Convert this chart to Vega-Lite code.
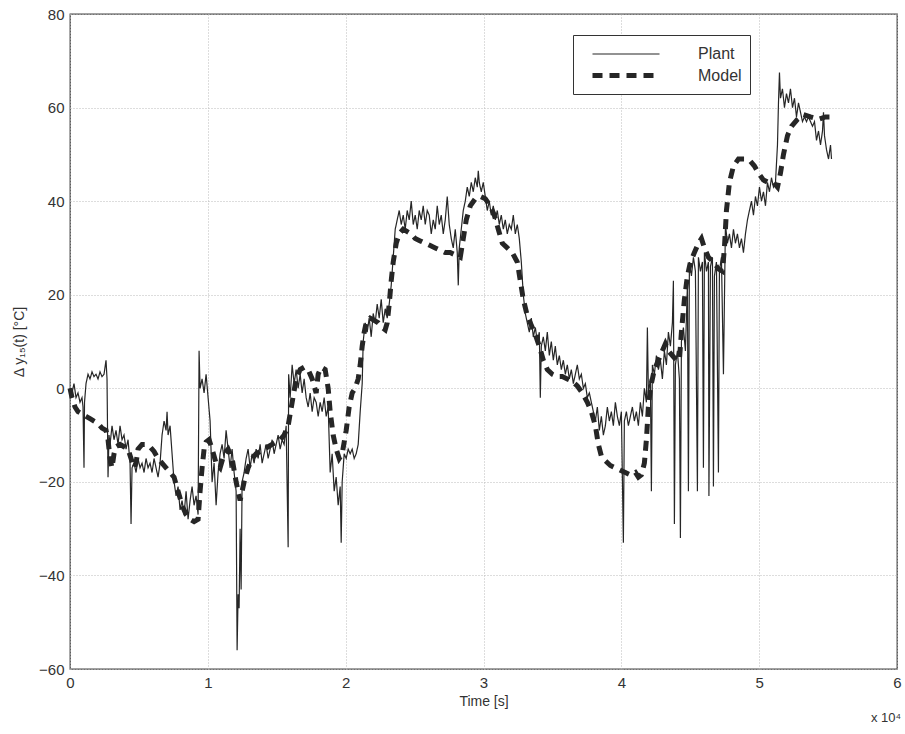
{
"$schema": "https://vega.github.io/schema/vega-lite/v6.json",
"width": 827, "height": 655,
"autosize": {"type": "none"},
"padding": {"left": 70, "top": 14, "right": 8, "bottom": 65},
"background": "white",
"title": {"text": "x 10⁴", "orient": "bottom", "anchor": "end", "fontSize": 13, "fontWeight": "normal", "font": "Liberation Sans", "color": "#333", "offset": 4},
"config": {
  "view": {"stroke": "#444", "strokeWidth": 1.3},
  "font": "Liberation Sans",
  "axis": {"domain": false, "ticks": false, "grid": true, "gridColor": "#bbb", "gridDash": [1, 2], "gridWidth": 1, "labelFont": "Liberation Sans", "labelFontSize": 15, "labelColor": "#333", "titleFont": "Liberation Sans", "titleFontSize": 14, "titleFontWeight": "normal", "titleColor": "#333"},
  "legend": {"orient": "none", "legendX": 503, "legendY": 21, "strokeColor": "#333", "fillColor": "white", "padding": 8, "symbolType": "M-0.1,0H6.6", "symbolSize": 400, "labelFontSize": 16, "labelFont": "Liberation Sans", "labelColor": "#333", "labelOffset": 92, "rowPadding": 1, "title": null}
},
"data": {"values": [
{"series":"Plant","time":0,"value":0},{"series":"Plant","time":145,"value":-1},{"series":"Plant","time":290,"value":1},{"series":"Plant","time":436,"value":-2},{"series":"Plant","time":581,"value":-1},{"series":"Plant","time":726,"value":-3},{"series":"Plant","time":871,"value":-2},{"series":"Plant","time":944,"value":-4},{"series":"Plant","time":1016,"value":-17},{"series":"Plant","time":1053,"value":-3},{"series":"Plant","time":1162,"value":1},{"series":"Plant","time":1307,"value":3},{"series":"Plant","time":1452,"value":2},{"series":"Plant","time":1597,"value":3.5},{"series":"Plant","time":1742,"value":2.5},{"series":"Plant","time":1888,"value":3},{"series":"Plant","time":2033,"value":2},{"series":"Plant","time":2178,"value":3.5},{"series":"Plant","time":2323,"value":2.5},{"series":"Plant","time":2468,"value":3},{"series":"Plant","time":2614,"value":6},{"series":"Plant","time":2686,"value":2},{"series":"Plant","time":2759,"value":-19},{"series":"Plant","time":2831,"value":-10},{"series":"Plant","time":2904,"value":-12},{"series":"Plant","time":3049,"value":-8},{"series":"Plant","time":3194,"value":-11},{"series":"Plant","time":3340,"value":-9},{"series":"Plant","time":3485,"value":-12},{"series":"Plant","time":3630,"value":-8},{"series":"Plant","time":3775,"value":-11},{"series":"Plant","time":3920,"value":-10},{"series":"Plant","time":4066,"value":-13},{"series":"Plant","time":4211,"value":-11},{"series":"Plant","time":4356,"value":-16},{"series":"Plant","time":4429,"value":-29},{"series":"Plant","time":4501,"value":-17},{"series":"Plant","time":4646,"value":-16},{"series":"Plant","time":4792,"value":-18},{"series":"Plant","time":4937,"value":-15},{"series":"Plant","time":5082,"value":-17},{"series":"Plant","time":5227,"value":-16},{"series":"Plant","time":5372,"value":-18},{"series":"Plant","time":5518,"value":-15},{"series":"Plant","time":5663,"value":-17},{"series":"Plant","time":5808,"value":-16},{"series":"Plant","time":5953,"value":-18},{"series":"Plant","time":6098,"value":-15},{"series":"Plant","time":6244,"value":-17},{"series":"Plant","time":6389,"value":-19},{"series":"Plant","time":6534,"value":-16},{"series":"Plant","time":6679,"value":-10},{"series":"Plant","time":6824,"value":-7},{"series":"Plant","time":6970,"value":-9},{"series":"Plant","time":7042,"value":-5},{"series":"Plant","time":7115,"value":-10},{"series":"Plant","time":7260,"value":-8},{"series":"Plant","time":7405,"value":-14},{"series":"Plant","time":7550,"value":-20},{"series":"Plant","time":7696,"value":-23},{"series":"Plant","time":7841,"value":-21},{"series":"Plant","time":7986,"value":-26},{"series":"Plant","time":8131,"value":-24},{"series":"Plant","time":8276,"value":-27},{"series":"Plant","time":8422,"value":-22},{"series":"Plant","time":8567,"value":-28},{"series":"Plant","time":8712,"value":-24},{"series":"Plant","time":8857,"value":-21},{"series":"Plant","time":9002,"value":-25},{"series":"Plant","time":9148,"value":-23},{"series":"Plant","time":9293,"value":-27},{"series":"Plant","time":9365,"value":8},{"series":"Plant","time":9438,"value":0},{"series":"Plant","time":9583,"value":2},{"series":"Plant","time":9728,"value":-1},{"series":"Plant","time":9874,"value":3},{"series":"Plant","time":10019,"value":-2},{"series":"Plant","time":10164,"value":-7},{"series":"Plant","time":10309,"value":-20},{"series":"Plant","time":10454,"value":-16},{"series":"Plant","time":10600,"value":-25},{"series":"Plant","time":10745,"value":-18},{"series":"Plant","time":10890,"value":-14},{"series":"Plant","time":11035,"value":-12},{"series":"Plant","time":11180,"value":-15},{"series":"Plant","time":11326,"value":-9},{"series":"Plant","time":11471,"value":-13},{"series":"Plant","time":11616,"value":-17},{"series":"Plant","time":11761,"value":-13},{"series":"Plant","time":11906,"value":-18},{"series":"Plant","time":12052,"value":-22},{"series":"Plant","time":12124,"value":-56},{"series":"Plant","time":12197,"value":-44},{"series":"Plant","time":12269,"value":-47},{"series":"Plant","time":12342,"value":-30},{"series":"Plant","time":12415,"value":-43},{"series":"Plant","time":12487,"value":-20},{"series":"Plant","time":12632,"value":-18},{"series":"Plant","time":12778,"value":-15},{"series":"Plant","time":12923,"value":-13},{"series":"Plant","time":13068,"value":-17},{"series":"Plant","time":13213,"value":-14},{"series":"Plant","time":13358,"value":-16},{"series":"Plant","time":13504,"value":-13},{"series":"Plant","time":13649,"value":-15},{"series":"Plant","time":13794,"value":-12},{"series":"Plant","time":13939,"value":-16},{"series":"Plant","time":14084,"value":-14},{"series":"Plant","time":14230,"value":-12},{"series":"Plant","time":14375,"value":-15},{"series":"Plant","time":14520,"value":-13},{"series":"Plant","time":14665,"value":-11},{"series":"Plant","time":14810,"value":-14},{"series":"Plant","time":14956,"value":-12},{"series":"Plant","time":15101,"value":-10},{"series":"Plant","time":15246,"value":-13},{"series":"Plant","time":15391,"value":-11},{"series":"Plant","time":15536,"value":-12},{"series":"Plant","time":15682,"value":-8},{"series":"Plant","time":15827,"value":-34},{"series":"Plant","time":15863,"value":3},{"series":"Plant","time":15972,"value":-2},{"series":"Plant","time":16117,"value":5},{"series":"Plant","time":16262,"value":1},{"series":"Plant","time":16408,"value":4},{"series":"Plant","time":16553,"value":0},{"series":"Plant","time":16698,"value":3},{"series":"Plant","time":16843,"value":-1},{"series":"Plant","time":16988,"value":2},{"series":"Plant","time":17134,"value":-2},{"series":"Plant","time":17279,"value":-4},{"series":"Plant","time":17424,"value":-1},{"series":"Plant","time":17569,"value":-5},{"series":"Plant","time":17714,"value":-2},{"series":"Plant","time":17860,"value":-3},{"series":"Plant","time":18005,"value":-6},{"series":"Plant","time":18150,"value":-3},{"series":"Plant","time":18295,"value":-5},{"series":"Plant","time":18440,"value":-2},{"series":"Plant","time":18586,"value":-6},{"series":"Plant","time":18731,"value":-4},{"series":"Plant","time":18876,"value":-18},{"series":"Plant","time":19021,"value":-14},{"series":"Plant","time":19166,"value":-22},{"series":"Plant","time":19312,"value":-19},{"series":"Plant","time":19457,"value":-25},{"series":"Plant","time":19602,"value":-21},{"series":"Plant","time":19675,"value":-33},{"series":"Plant","time":19747,"value":-20},{"series":"Plant","time":19892,"value":-14},{"series":"Plant","time":20038,"value":-15},{"series":"Plant","time":20183,"value":-13},{"series":"Plant","time":20328,"value":-14},{"series":"Plant","time":20473,"value":-13},{"series":"Plant","time":20618,"value":-15},{"series":"Plant","time":20764,"value":-14},{"series":"Plant","time":20909,"value":-12},{"series":"Plant","time":21054,"value":-5},{"series":"Plant","time":21199,"value":1},{"series":"Plant","time":21272,"value":10},{"series":"Plant","time":21417,"value":14},{"series":"Plant","time":21562,"value":12},{"series":"Plant","time":21707,"value":15},{"series":"Plant","time":21853,"value":11},{"series":"Plant","time":21998,"value":16},{"series":"Plant","time":22143,"value":14},{"series":"Plant","time":22288,"value":18},{"series":"Plant","time":22433,"value":15},{"series":"Plant","time":22579,"value":19},{"series":"Plant","time":22724,"value":14},{"series":"Plant","time":22869,"value":17},{"series":"Plant","time":23014,"value":15},{"series":"Plant","time":23159,"value":18},{"series":"Plant","time":23305,"value":22},{"series":"Plant","time":23450,"value":28},{"series":"Plant","time":23595,"value":34},{"series":"Plant","time":23740,"value":36},{"series":"Plant","time":23885,"value":38},{"series":"Plant","time":24031,"value":35},{"series":"Plant","time":24176,"value":37},{"series":"Plant","time":24321,"value":34},{"series":"Plant","time":24466,"value":38},{"series":"Plant","time":24611,"value":36},{"series":"Plant","time":24757,"value":40},{"series":"Plant","time":24902,"value":35},{"series":"Plant","time":25047,"value":37},{"series":"Plant","time":25192,"value":34},{"series":"Plant","time":25337,"value":38},{"series":"Plant","time":25483,"value":36},{"series":"Plant","time":25628,"value":39},{"series":"Plant","time":25773,"value":35},{"series":"Plant","time":25918,"value":38},{"series":"Plant","time":26063,"value":37},{"series":"Plant","time":26209,"value":33},{"series":"Plant","time":26354,"value":36},{"series":"Plant","time":26499,"value":34},{"series":"Plant","time":26644,"value":39},{"series":"Plant","time":26789,"value":35},{"series":"Plant","time":26935,"value":37},{"series":"Plant","time":27080,"value":33},{"series":"Plant","time":27225,"value":36},{"series":"Plant","time":27370,"value":41},{"series":"Plant","time":27515,"value":35},{"series":"Plant","time":27661,"value":32},{"series":"Plant","time":27806,"value":30},{"series":"Plant","time":27951,"value":34},{"series":"Plant","time":28096,"value":29},{"series":"Plant","time":28169,"value":22},{"series":"Plant","time":28241,"value":30},{"series":"Plant","time":28387,"value":34},{"series":"Plant","time":28532,"value":38},{"series":"Plant","time":28677,"value":40},{"series":"Plant","time":28822,"value":43},{"series":"Plant","time":28967,"value":41},{"series":"Plant","time":29113,"value":44},{"series":"Plant","time":29258,"value":42},{"series":"Plant","time":29403,"value":45},{"series":"Plant","time":29548,"value":43},{"series":"Plant","time":29621,"value":46.5},{"series":"Plant","time":29693,"value":44},{"series":"Plant","time":29839,"value":42},{"series":"Plant","time":29984,"value":44},{"series":"Plant","time":30129,"value":41},{"series":"Plant","time":30274,"value":38},{"series":"Plant","time":30419,"value":40},{"series":"Plant","time":30565,"value":37},{"series":"Plant","time":30710,"value":39},{"series":"Plant","time":30855,"value":36},{"series":"Plant","time":31000,"value":38},{"series":"Plant","time":31145,"value":35},{"series":"Plant","time":31291,"value":37},{"series":"Plant","time":31436,"value":34},{"series":"Plant","time":31581,"value":36},{"series":"Plant","time":31726,"value":33},{"series":"Plant","time":31871,"value":35},{"series":"Plant","time":32017,"value":34},{"series":"Plant","time":32162,"value":37},{"series":"Plant","time":32307,"value":33},{"series":"Plant","time":32452,"value":35},{"series":"Plant","time":32597,"value":32},{"series":"Plant","time":32743,"value":27},{"series":"Plant","time":32888,"value":20},{"series":"Plant","time":33033,"value":16},{"series":"Plant","time":33178,"value":14},{"series":"Plant","time":33323,"value":12},{"series":"Plant","time":33469,"value":15},{"series":"Plant","time":33614,"value":11},{"series":"Plant","time":33759,"value":13},{"series":"Plant","time":33904,"value":10},{"series":"Plant","time":34049,"value":12},{"series":"Plant","time":34122,"value":-2},{"series":"Plant","time":34195,"value":9},{"series":"Plant","time":34340,"value":11},{"series":"Plant","time":34485,"value":8},{"series":"Plant","time":34630,"value":12},{"series":"Plant","time":34775,"value":7},{"series":"Plant","time":34921,"value":10},{"series":"Plant","time":35066,"value":6},{"series":"Plant","time":35211,"value":9},{"series":"Plant","time":35356,"value":5},{"series":"Plant","time":35501,"value":7},{"series":"Plant","time":35647,"value":4},{"series":"Plant","time":35792,"value":6},{"series":"Plant","time":35937,"value":3},{"series":"Plant","time":36082,"value":5},{"series":"Plant","time":36227,"value":2},{"series":"Plant","time":36373,"value":4},{"series":"Plant","time":36518,"value":1},{"series":"Plant","time":36663,"value":3},{"series":"Plant","time":36808,"value":5},{"series":"Plant","time":36953,"value":2},{"series":"Plant","time":37099,"value":3},{"series":"Plant","time":37244,"value":0},{"series":"Plant","time":37389,"value":1},{"series":"Plant","time":37534,"value":-2},{"series":"Plant","time":37679,"value":-1},{"series":"Plant","time":37825,"value":-3},{"series":"Plant","time":37970,"value":-5},{"series":"Plant","time":38115,"value":-7},{"series":"Plant","time":38260,"value":-4},{"series":"Plant","time":38405,"value":-9},{"series":"Plant","time":38551,"value":-6},{"series":"Plant","time":38696,"value":-10},{"series":"Plant","time":38841,"value":-8},{"series":"Plant","time":38986,"value":-4},{"series":"Plant","time":39131,"value":-7},{"series":"Plant","time":39277,"value":-5},{"series":"Plant","time":39422,"value":-8},{"series":"Plant","time":39567,"value":-3},{"series":"Plant","time":39712,"value":-6},{"series":"Plant","time":39857,"value":-8},{"series":"Plant","time":40003,"value":-5},{"series":"Plant","time":40148,"value":-33},{"series":"Plant","time":40220,"value":-7},{"series":"Plant","time":40366,"value":-5},{"series":"Plant","time":40511,"value":-8},{"series":"Plant","time":40656,"value":-6},{"series":"Plant","time":40801,"value":-4},{"series":"Plant","time":40946,"value":-7},{"series":"Plant","time":41092,"value":-5},{"series":"Plant","time":41237,"value":-8},{"series":"Plant","time":41382,"value":-3},{"series":"Plant","time":41527,"value":-6},{"series":"Plant","time":41672,"value":0},{"series":"Plant","time":41818,"value":-3},{"series":"Plant","time":41890,"value":13},{"series":"Plant","time":41963,"value":-1},{"series":"Plant","time":42108,"value":2},{"series":"Plant","time":42181,"value":-22},{"series":"Plant","time":42253,"value":5},{"series":"Plant","time":42398,"value":3},{"series":"Plant","time":42544,"value":7},{"series":"Plant","time":42689,"value":4},{"series":"Plant","time":42834,"value":6},{"series":"Plant","time":42979,"value":2},{"series":"Plant","time":43124,"value":8},{"series":"Plant","time":43270,"value":5},{"series":"Plant","time":43415,"value":12},{"series":"Plant","time":43560,"value":9},{"series":"Plant","time":43705,"value":14},{"series":"Plant","time":43778,"value":23},{"series":"Plant","time":43850,"value":-29},{"series":"Plant","time":43923,"value":5},{"series":"Plant","time":44068,"value":8},{"series":"Plant","time":44213,"value":2},{"series":"Plant","time":44286,"value":-32},{"series":"Plant","time":44359,"value":10},{"series":"Plant","time":44504,"value":13},{"series":"Plant","time":44649,"value":8},{"series":"Plant","time":44794,"value":22},{"series":"Plant","time":44867,"value":-22},{"series":"Plant","time":44939,"value":27},{"series":"Plant","time":45085,"value":24},{"series":"Plant","time":45230,"value":28},{"series":"Plant","time":45375,"value":25},{"series":"Plant","time":45520,"value":-22},{"series":"Plant","time":45593,"value":28},{"series":"Plant","time":45738,"value":25},{"series":"Plant","time":45883,"value":27},{"series":"Plant","time":45956,"value":-17},{"series":"Plant","time":46028,"value":29},{"series":"Plant","time":46174,"value":25},{"series":"Plant","time":46319,"value":27},{"series":"Plant","time":46355,"value":-23},{"series":"Plant","time":46464,"value":26},{"series":"Plant","time":46609,"value":28},{"series":"Plant","time":46682,"value":-21},{"series":"Plant","time":46754,"value":24},{"series":"Plant","time":46900,"value":27},{"series":"Plant","time":47045,"value":-18},{"series":"Plant","time":47117,"value":25},{"series":"Plant","time":47263,"value":28},{"series":"Plant","time":47408,"value":3},{"series":"Plant","time":47553,"value":35},{"series":"Plant","time":47698,"value":31},{"series":"Plant","time":47843,"value":33},{"series":"Plant","time":47989,"value":30},{"series":"Plant","time":48134,"value":34},{"series":"Plant","time":48279,"value":31},{"series":"Plant","time":48424,"value":33},{"series":"Plant","time":48569,"value":30},{"series":"Plant","time":48715,"value":32},{"series":"Plant","time":48860,"value":29},{"series":"Plant","time":49005,"value":33},{"series":"Plant","time":49150,"value":36},{"series":"Plant","time":49295,"value":38},{"series":"Plant","time":49441,"value":40},{"series":"Plant","time":49586,"value":37},{"series":"Plant","time":49731,"value":41},{"series":"Plant","time":49876,"value":39},{"series":"Plant","time":50021,"value":43},{"series":"Plant","time":50167,"value":40},{"series":"Plant","time":50312,"value":42},{"series":"Plant","time":50457,"value":39},{"series":"Plant","time":50602,"value":44},{"series":"Plant","time":50747,"value":42},{"series":"Plant","time":50893,"value":45},{"series":"Plant","time":51038,"value":43},{"series":"Plant","time":51183,"value":44},{"series":"Plant","time":51328,"value":52},{"series":"Plant","time":51401,"value":61},{"series":"Plant","time":51473,"value":67.5},{"series":"Plant","time":51546,"value":62},{"series":"Plant","time":51691,"value":64},{"series":"Plant","time":51836,"value":60},{"series":"Plant","time":51982,"value":63},{"series":"Plant","time":52127,"value":61},{"series":"Plant","time":52272,"value":64},{"series":"Plant","time":52417,"value":60},{"series":"Plant","time":52562,"value":62},{"series":"Plant","time":52708,"value":58},{"series":"Plant","time":52853,"value":61},{"series":"Plant","time":52998,"value":59},{"series":"Plant","time":53143,"value":57},{"series":"Plant","time":53288,"value":58},{"series":"Plant","time":53434,"value":57},{"series":"Plant","time":53579,"value":58},{"series":"Plant","time":53724,"value":57},{"series":"Plant","time":53869,"value":56},{"series":"Plant","time":54014,"value":57},{"series":"Plant","time":54160,"value":53},{"series":"Plant","time":54305,"value":55},{"series":"Plant","time":54450,"value":52},{"series":"Plant","time":54595,"value":55},{"series":"Plant","time":54668,"value":59},{"series":"Plant","time":54740,"value":54},{"series":"Plant","time":54886,"value":51},{"series":"Plant","time":55031,"value":49},{"series":"Plant","time":55176,"value":52},{"series":"Plant","time":55249,"value":49},
{"series":"Model","time":0,"value":0},{"series":"Model","time":145,"value":-2},{"series":"Model","time":363,"value":-4},{"series":"Model","time":581,"value":-5},{"series":"Model","time":871,"value":-5.5},{"series":"Model","time":1162,"value":-6},{"series":"Model","time":1452,"value":-6.5},{"series":"Model","time":1742,"value":-7},{"series":"Model","time":2033,"value":-7.5},{"series":"Model","time":2323,"value":-8.5},{"series":"Model","time":2614,"value":-9},{"series":"Model","time":2759,"value":-11},{"series":"Model","time":2904,"value":-15},{"series":"Model","time":3049,"value":-17},{"series":"Model","time":3194,"value":-14},{"series":"Model","time":3340,"value":-12.5},{"series":"Model","time":3630,"value":-12},{"series":"Model","time":3920,"value":-12.5},{"series":"Model","time":4211,"value":-13},{"series":"Model","time":4429,"value":-15},{"series":"Model","time":4646,"value":-17},{"series":"Model","time":4792,"value":-16},{"series":"Model","time":4937,"value":-13},{"series":"Model","time":5227,"value":-12},{"series":"Model","time":5518,"value":-12},{"series":"Model","time":5808,"value":-12.5},{"series":"Model","time":6098,"value":-13.5},{"series":"Model","time":6389,"value":-15},{"series":"Model","time":6679,"value":-16},{"series":"Model","time":6970,"value":-17},{"series":"Model","time":7260,"value":-18},{"series":"Model","time":7550,"value":-19},{"series":"Model","time":7841,"value":-22},{"series":"Model","time":8131,"value":-25},{"series":"Model","time":8422,"value":-27},{"series":"Model","time":8712,"value":-28},{"series":"Model","time":9002,"value":-28.5},{"series":"Model","time":9293,"value":-28},{"series":"Model","time":9438,"value":-22},{"series":"Model","time":9583,"value":-17},{"series":"Model","time":9728,"value":-13},{"series":"Model","time":9874,"value":-11.5},{"series":"Model","time":10091,"value":-11},{"series":"Model","time":10309,"value":-13},{"series":"Model","time":10600,"value":-16},{"series":"Model","time":10890,"value":-17},{"series":"Model","time":11180,"value":-14},{"series":"Model","time":11471,"value":-13},{"series":"Model","time":11761,"value":-15},{"series":"Model","time":12052,"value":-20},{"series":"Model","time":12342,"value":-24},{"series":"Model","time":12632,"value":-20},{"series":"Model","time":12923,"value":-17},{"series":"Model","time":13213,"value":-15},{"series":"Model","time":13504,"value":-14},{"series":"Model","time":13794,"value":-13.5},{"series":"Model","time":14084,"value":-13},{"series":"Model","time":14375,"value":-12.5},{"series":"Model","time":14665,"value":-12},{"series":"Model","time":14956,"value":-11.5},{"series":"Model","time":15246,"value":-11},{"series":"Model","time":15536,"value":-10},{"series":"Model","time":15827,"value":-8},{"series":"Model","time":16117,"value":-3},{"series":"Model","time":16408,"value":2},{"series":"Model","time":16698,"value":4},{"series":"Model","time":16988,"value":4.5},{"series":"Model","time":17279,"value":4},{"series":"Model","time":17569,"value":2},{"series":"Model","time":17860,"value":-1},{"series":"Model","time":18005,"value":3},{"series":"Model","time":18223,"value":4.5},{"series":"Model","time":18513,"value":4},{"series":"Model","time":18731,"value":0},{"series":"Model","time":18876,"value":-5},{"series":"Model","time":19094,"value":-10},{"series":"Model","time":19312,"value":-13},{"series":"Model","time":19529,"value":-15},{"series":"Model","time":19747,"value":-14},{"series":"Model","time":20038,"value":-9},{"series":"Model","time":20255,"value":-4},{"series":"Model","time":20473,"value":-1},{"series":"Model","time":20691,"value":0},{"series":"Model","time":20909,"value":2},{"series":"Model","time":21054,"value":5},{"series":"Model","time":21199,"value":9},{"series":"Model","time":21344,"value":12},{"series":"Model","time":21490,"value":14},{"series":"Model","time":21780,"value":15},{"series":"Model","time":22070,"value":14.5},{"series":"Model","time":22361,"value":14},{"series":"Model","time":22651,"value":13},{"series":"Model","time":22869,"value":12.5},{"series":"Model","time":23014,"value":14},{"series":"Model","time":23159,"value":18},{"series":"Model","time":23305,"value":23},{"series":"Model","time":23450,"value":27},{"series":"Model","time":23668,"value":31},{"series":"Model","time":23885,"value":33},{"series":"Model","time":24176,"value":34},{"series":"Model","time":24466,"value":33.5},{"series":"Model","time":24757,"value":33},{"series":"Model","time":25047,"value":32},{"series":"Model","time":25410,"value":31.5},{"series":"Model","time":25773,"value":31},{"series":"Model","time":26136,"value":30.5},{"series":"Model","time":26499,"value":30},{"series":"Model","time":26862,"value":29.5},{"series":"Model","time":27225,"value":29},{"series":"Model","time":27588,"value":29},{"series":"Model","time":27951,"value":28.5},{"series":"Model","time":28314,"value":28},{"series":"Model","time":28532,"value":32},{"series":"Model","time":28750,"value":36},{"series":"Model","time":29040,"value":39},{"series":"Model","time":29403,"value":40.5},{"series":"Model","time":29766,"value":41},{"series":"Model","time":30129,"value":40.5},{"series":"Model","time":30492,"value":39},{"series":"Model","time":30782,"value":37},{"series":"Model","time":31073,"value":34},{"series":"Model","time":31363,"value":31},{"series":"Model","time":31726,"value":30},{"series":"Model","time":32089,"value":29},{"series":"Model","time":32452,"value":27},{"series":"Model","time":32670,"value":23},{"series":"Model","time":32888,"value":19},{"series":"Model","time":33178,"value":15.5},{"series":"Model","time":33469,"value":13.5},{"series":"Model","time":33759,"value":11.5},{"series":"Model","time":34049,"value":9},{"series":"Model","time":34340,"value":6},{"series":"Model","time":34630,"value":4},{"series":"Model","time":34993,"value":3},{"series":"Model","time":35356,"value":2.5},{"series":"Model","time":35719,"value":2.5},{"series":"Model","time":36082,"value":2},{"series":"Model","time":36445,"value":1.5},{"series":"Model","time":36808,"value":0.5},{"series":"Model","time":37171,"value":-1},{"series":"Model","time":37534,"value":-3},{"series":"Model","time":37825,"value":-5},{"series":"Model","time":38115,"value":-8},{"series":"Model","time":38333,"value":-12},{"series":"Model","time":38551,"value":-14.5},{"series":"Model","time":38841,"value":-15.5},{"series":"Model","time":39204,"value":-16.5},{"series":"Model","time":39567,"value":-17},{"series":"Model","time":39930,"value":-17.5},{"series":"Model","time":40293,"value":-18},{"series":"Model","time":40656,"value":-18.5},{"series":"Model","time":41019,"value":-18},{"series":"Model","time":41237,"value":-19},{"series":"Model","time":41455,"value":-18.5},{"series":"Model","time":41672,"value":-16},{"series":"Model","time":41818,"value":-11},{"series":"Model","time":41963,"value":-4},{"series":"Model","time":42108,"value":0},{"series":"Model","time":42398,"value":4},{"series":"Model","time":42689,"value":6},{"series":"Model","time":42979,"value":8},{"series":"Model","time":43197,"value":9.5},{"series":"Model","time":43415,"value":8},{"series":"Model","time":43705,"value":7},{"series":"Model","time":43996,"value":6},{"series":"Model","time":44213,"value":6},{"series":"Model","time":44359,"value":12},{"series":"Model","time":44576,"value":19},{"series":"Model","time":44794,"value":24},{"series":"Model","time":45012,"value":27},{"series":"Model","time":45302,"value":29},{"series":"Model","time":45593,"value":31},{"series":"Model","time":45811,"value":32},{"series":"Model","time":46028,"value":30},{"series":"Model","time":46319,"value":28},{"series":"Model","time":46682,"value":27},{"series":"Model","time":47045,"value":25.5},{"series":"Model","time":47335,"value":25},{"series":"Model","time":47480,"value":30},{"series":"Model","time":47626,"value":38},{"series":"Model","time":47843,"value":44},{"series":"Model","time":48134,"value":47.5},{"series":"Model","time":48497,"value":49},{"series":"Model","time":49005,"value":49},{"series":"Model","time":49368,"value":48.5},{"series":"Model","time":49658,"value":47.5},{"series":"Model","time":49949,"value":46},{"series":"Model","time":50312,"value":44.5},{"series":"Model","time":50675,"value":44},{"series":"Model","time":51038,"value":44},{"series":"Model","time":51328,"value":43},{"series":"Model","time":51546,"value":46},{"series":"Model","time":51764,"value":50},{"series":"Model","time":52054,"value":54},{"series":"Model","time":52345,"value":56},{"series":"Model","time":52780,"value":57.5},{"series":"Model","time":53216,"value":58.5},{"series":"Model","time":53724,"value":58},{"series":"Model","time":54305,"value":57.5},{"series":"Model","time":54813,"value":58},{"series":"Model","time":55394,"value":58}
]},
"mark": {"type": "line", "strokeCap": "butt", "strokeJoin": "miter"},
"encoding": {
  "x": {"field": "time", "type": "quantitative", "scale": {"domain": [0, 60000], "nice": false, "zero": false}, "axis": {"values": [0, 10000, 20000, 30000, 40000, 50000, 60000], "labelExpr": "datum.value / 10000", "title": "Time [s]", "labelPadding": 6, "titlePadding": 4, "labelFlush": false}},
  "y": {"field": "value", "type": "quantitative", "scale": {"domain": [-60, 80], "nice": false, "zero": false}, "axis": {"values": [-60, -40, -20, 0, 20, 40, 60, 80], "title": "Δ y₁₅(t) [°C]", "labelPadding": 6, "titlePadding": 12}},
  "color": {"field": "series", "type": "nominal", "scale": {"domain": ["Plant", "Model"], "range": ["#262626", "#262626"]}},
  "strokeDash": {"field": "series", "type": "nominal", "scale": {"domain": ["Plant", "Model"], "range": [[1, 0], [10, 7]]}},
  "strokeWidth": {"field": "series", "type": "nominal", "scale": {"domain": ["Plant", "Model"], "range": [1.2, 5]}}
}
}
